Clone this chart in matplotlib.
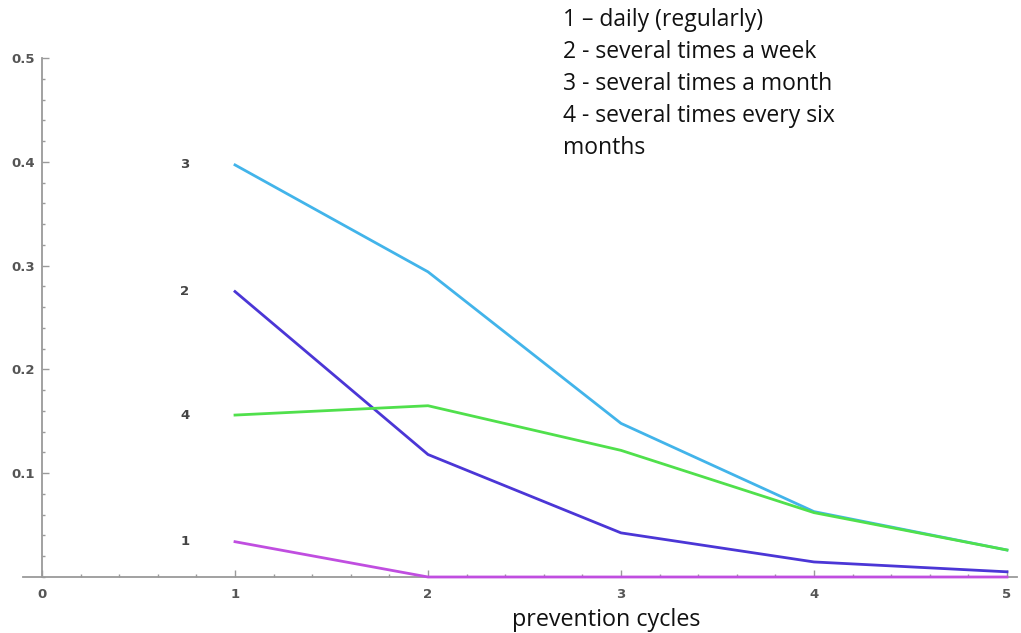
import matplotlib.pyplot as plt
from matplotlib.ticker import MultipleLocator

cycles = [1, 2, 3, 4, 5]
freq_daily = [0.034, 0.0, 0.0, 0.0, 0.0]
freq_week = [0.275, 0.118, 0.0425, 0.0145, 0.005]
freq_month = [0.397, 0.294, 0.148, 0.063, 0.026]
freq_halfyear = [0.156, 0.165, 0.122, 0.062, 0.026]

series = [
    ("1", freq_daily, "#c04ee0"),
    ("2", freq_week, "#4b36d6"),
    ("3", freq_month, "#42b4ea"),
    ("4", freq_halfyear, "#50e04c"),
]

legend_lines = [
    "1 \u2013 daily (regularly)",
    "2 - several times a week",
    "3 - several times a month",
    "4 - several times every six",
    "months",
]

W, H = 1021, 633
fig = plt.figure(figsize=(W / 100, H / 100), dpi=100)
x0_px, ppu = 42, 193.0
xmin, xmax = -0.1, 5.05
left_px = x0_px + xmin * ppu
right_px = x0_px + xmax * ppu
bottom_px, top_px = 577, 58
ax = fig.add_axes([left_px / W, 1 - bottom_px / H,
                   (right_px - left_px) / W, (bottom_px - top_px) / H])
ax.set_xlim(xmin, xmax)
ax.set_ylim(0, 0.5)

axis_gray = "#9a9a9a"
for s in ("top", "right"):
    ax.spines[s].set_visible(False)
ax.spines["left"].set_position(("data", 0))
ax.spines["bottom"].set_position(("data", 0))
for s in ("left", "bottom"):
    ax.spines[s].set_color(axis_gray)
    ax.spines[s].set_linewidth(1.3)

ax.xaxis.set_major_locator(MultipleLocator(1))
ax.xaxis.set_minor_locator(MultipleLocator(0.2))
ax.set_yticks([0.1, 0.2, 0.3, 0.4, 0.5])
ax.yaxis.set_minor_locator(MultipleLocator(0.02))
ax.tick_params(which="both", direction="in", color=axis_gray, width=1,
               labelcolor="#555555", labelsize=9.5)
ax.tick_params(which="major", length=5)
ax.tick_params(which="minor", length=2.5)
ax.tick_params(axis="x", pad=8)
ax.tick_params(axis="y", pad=5)
for lbl in ax.get_xticklabels() + ax.get_yticklabels():
    lbl.set_fontweight("bold")

for name, vals, color in series:
    ax.plot(cycles, vals, color=color, lw=2, clip_on=False, zorder=3)
    ax.text(0.74, vals[0], name, ha="center", va="center", fontsize=9.5,
            color="#444444", fontweight="bold")

for i, line in enumerate(legend_lines):
    fig.text(563 / W, 1 - (20 + 32 * i) / H, line, ha="left", va="center",
             fontsize=16.5, family="Open Sans", color="#111111")

fig.text(606 / W, 1 - 620 / H, "prevention cycles", ha="center", va="center",
         fontsize=16.8, family="Open Sans", color="#111111")

fig.savefig("out.png", dpi=100)
